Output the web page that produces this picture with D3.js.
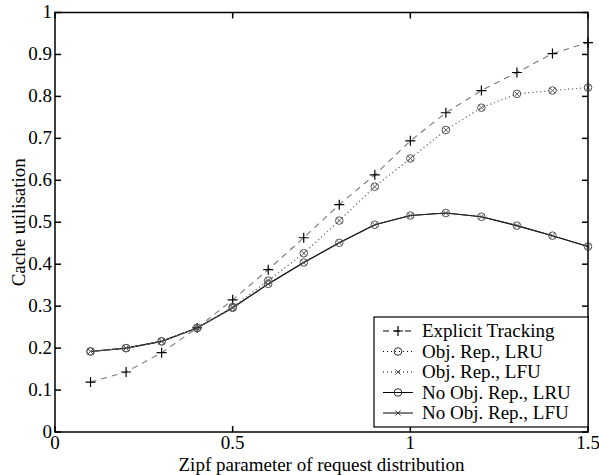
<!DOCTYPE html>
<html><head><meta charset="utf-8">
<script src="https://cdn.jsdelivr.net/npm/d3@7"></script>
<style>body{margin:0;background:#fff}</style>
</head><body><svg id="c" width="599" height="475"></svg>
<script>
const zipf = [0.1,0.2,0.3,0.4,0.5,0.6,0.7,0.8,0.9,1.0,1.1,1.2,1.3,1.4,1.5];
const explicitTracking = [0.119,0.143,0.189,0.248,0.315,0.387,0.463,0.542,0.613,0.694,0.761,0.814,0.857,0.902,0.928];
const objRepLRU = [0.192,0.200,0.216,0.248,0.298,0.361,0.426,0.504,0.585,0.652,0.720,0.773,0.806,0.814,0.821];
const objRepLFU = [0.192,0.200,0.216,0.248,0.298,0.361,0.426,0.504,0.585,0.652,0.720,0.773,0.806,0.814,0.821];
const noObjRepLRU = [0.192,0.200,0.216,0.248,0.296,0.353,0.404,0.451,0.494,0.516,0.522,0.513,0.492,0.468,0.442];
const noObjRepLFU = [0.192,0.200,0.216,0.248,0.296,0.353,0.404,0.451,0.494,0.516,0.522,0.513,0.492,0.468,0.442];
const xTicks = [0,0.5,1,1.5];
const xTickLabels = ["0","0.5","1","1.5"];
const yTicks = [0,0.1,0.2,0.3,0.4,0.5,0.6,0.7,0.8,0.9,1];
const yTickLabels = ["0","0.1","0.2","0.3","0.4","0.5","0.6","0.7","0.8","0.9","1"];
const seriesNames = ["Explicit Tracking","Obj. Rep., LRU","Obj. Rep., LFU","No Obj. Rep., LRU","No Obj. Rep., LFU"];

const series = [
  {name:seriesNames[0], vals:explicitTracking, dash:"6,5", color:"#777", marker:"plus"},
  {name:seriesNames[1], vals:objRepLRU, dash:"1,3", color:"#777", marker:"circle"},
  {name:seriesNames[2], vals:objRepLFU, dash:"1,3", color:"#777", marker:"x"},
  {name:seriesNames[3], vals:noObjRepLRU, dash:null, color:"#222", marker:"circle"},
  {name:seriesNames[4], vals:noObjRepLFU, dash:null, color:"#222", marker:"x"}
];
const FONT = "Liberation Serif";
const FS = 19;

const svg = d3.select("#c");
const L=55, R=588, T=12.5, B=432;
const x = d3.scaleLinear().domain([0,1.5]).range([L,R]);
const y = d3.scaleLinear().domain([0,1]).range([B,T]);

function drawMarker(g, type, cx, cy, col){
  if(type==="plus"){
    g.append("path").attr("d",`M${cx-5},${cy}H${cx+5}M${cx},${cy-5}V${cy+5}`).attr("stroke","#000").attr("stroke-width",1.2).attr("fill","none");
  } else if(type==="circle"){
    g.append("circle").attr("cx",cx).attr("cy",cy).attr("r",3.8).attr("stroke",col).attr("stroke-width",1).attr("fill","none");
  } else {
    g.append("path").attr("d",`M${cx-2.6},${cy-2.6}L${cx+2.6},${cy+2.6}M${cx-2.6},${cy+2.6}L${cx+2.6},${cy-2.6}`).attr("stroke",col).attr("stroke-width",0.9).attr("fill","none");
  }
}

const line = d3.line().x((d,i)=>x(zipf[i])).y(d=>y(d)).curve(d3.curveLinear);
const gData = svg.append("g");
series.slice().reverse().forEach(s=>{
  gData.append("path").datum(s.vals).attr("d",line).attr("fill","none")
    .attr("stroke",s.color).attr("stroke-width",1.1).attr("stroke-dasharray",s.dash);
});
series.forEach(s=>{
  s.vals.forEach((v,i)=>drawMarker(gData, s.marker, x(zipf[i]), y(v), s.marker==="plus"?"#000":"#555"));
});

const gAx = svg.append("g");
gAx.append("rect").attr("x",L).attr("y",T).attr("width",R-L).attr("height",B-T).attr("fill","none").attr("stroke","#000").attr("stroke-width",1.5);
const tl=6;
xTicks.forEach((t,i)=>{
  const px=x(t);
  gAx.append("line").attr("x1",px).attr("x2",px).attr("y1",B).attr("y2",B-tl).attr("stroke","#000").attr("stroke-width",1.5);
  gAx.append("line").attr("x1",px).attr("x2",px).attr("y1",T).attr("y2",T+tl).attr("stroke","#000").attr("stroke-width",1.5);
  gAx.append("text").attr("x",px).attr("y",B+17).attr("text-anchor","middle").attr("font-family",FONT).attr("font-size",FS).text(xTickLabels[i]);
});
yTicks.forEach((t,i)=>{
  const py=y(t);
  gAx.append("line").attr("x1",L).attr("x2",L+tl).attr("y1",py).attr("y2",py).attr("stroke","#000").attr("stroke-width",1.5);
  gAx.append("line").attr("x1",R).attr("x2",R-tl).attr("y1",py).attr("y2",py).attr("stroke","#000").attr("stroke-width",1.5);
  gAx.append("text").attr("x",L-3).attr("y",py).attr("dy","0.3em").attr("text-anchor","end").attr("font-family",FONT).attr("font-size",FS).text(yTickLabels[i]);
});
svg.append("text").attr("x",(L+R)/2).attr("y",471).attr("text-anchor","middle").attr("font-family",FONT).attr("font-size",FS).text("Zipf parameter of request distribution");
svg.append("text").attr("transform",`translate(25,${(T+B)/2}) rotate(-90)`).attr("text-anchor","middle").attr("font-family",FONT).attr("font-size",FS).text("Cache utilisation");

const lg = svg.append("g");
lg.append("rect").attr("x",374).attr("y",317).attr("width",214).attr("height",110).attr("fill","#fff").attr("stroke","#000").attr("stroke-width",1.2);
series.forEach((s,i)=>{
  const ly = 331 + i*20.5;
  lg.append("line").attr("x1",383).attr("x2",413).attr("y1",ly).attr("y2",ly).attr("stroke","#000").attr("stroke-width",1).attr("stroke-dasharray",s.dash);
  drawMarker(lg, s.marker, 398, ly, "#333");
  lg.append("text").attr("x",422).attr("y",ly).attr("dy","0.33em").attr("font-family",FONT).attr("font-size",FS).text(s.name);
});
</script></body></html>
